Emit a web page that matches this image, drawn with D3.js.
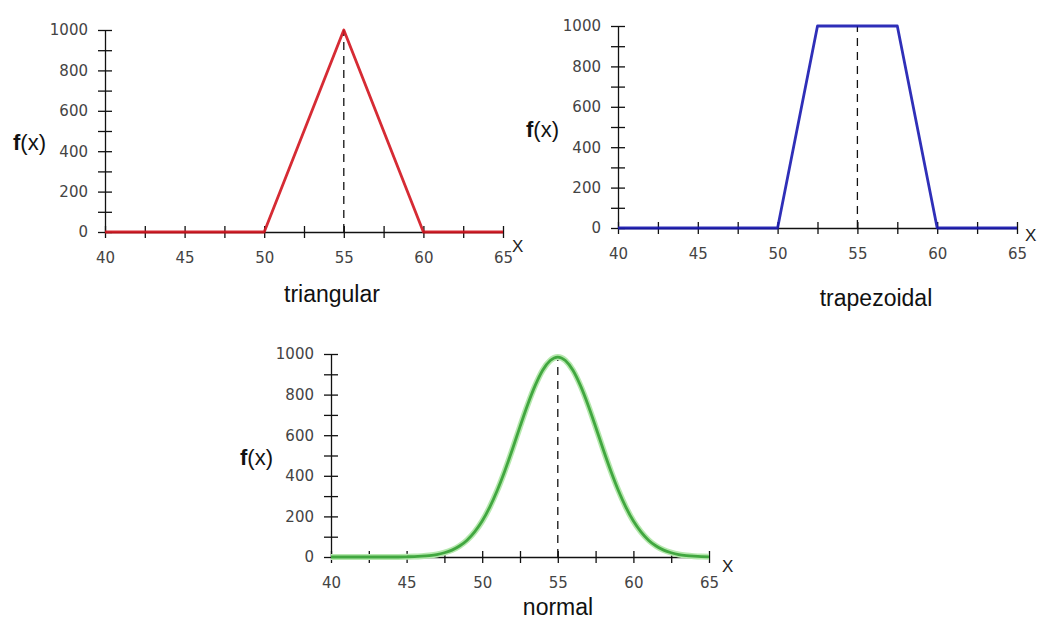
<!DOCTYPE html>
<html>
<head>
<meta charset="utf-8">
<script src="https://cdn.jsdelivr.net/npm/d3@7"></script>
<style>
	body { margin: 0; background: #fff; }
	svg { display: block; }
</style>
</head>
<body>
<svg width="1042" height="622"></svg>
<script>
// tick values shared by all three panels
var xTicks = [40, 42.5, 45, 47.5, 50, 52.5, 55, 57.5, 60, 62.5, 65];
var yTicks = [0, 100, 200, 300, 400, 500, 600, 700, 800, 900, 1000];

// triangular membership
var triX = [40, 50, 55, 60, 65];
var triY = [0, 0, 1000, 0, 0];

// trapezoidal membership
var trapX = [40, 50, 52.5, 57.5, 60, 65];
var trapY = [0, 0, 1000, 1000, 0, 0];

// normal curve
var normX = [40, 44, 45, 45.5, 46, 46.5, 47, 47.5, 48, 48.5, 49, 49.5, 50, 50.5, 51, 51.5, 52, 52.5, 53, 53.5, 54, 54.5,
	55, 55.5, 56, 56.5, 57, 57.5, 58, 58.5, 59, 59.5, 60, 60.5, 61, 61.5, 62, 62.5, 63, 63.5, 64, 64.5, 65];
var normY = [0, 0, 1, 2, 4, 7, 12, 21, 34, 54, 83, 124, 177, 246, 329, 425, 531, 642, 749, 844, 920, 968,
	985, 968, 920, 844, 749, 642, 531, 425, 329, 246, 177, 124, 83, 54, 34, 21, 12, 7, 4, 2, 1];

var panels = [
	{ name: "triangular", xs: triX, ys: triY, peak: 1000, color: "#d2141e", halo: null,
	  left: 105, right: 503, top: 30, bottom: 232,
	  fx: [13, 150], title: [332, 302], xl: [512, 252], curve: d3.curveLinear },
	{ name: "trapezoidal", xs: trapX, ys: trapY, peak: 1000, color: "#1818b0", halo: null,
	  left: 618, right: 1017, top: 26, bottom: 228,
	  fx: [526, 137], title: [876, 306], xl: [1025, 241], curve: d3.curveLinear },
	{ name: "normal", xs: normX, ys: normY, peak: 985, color: "#34a034", halo: "#b6e8ae",
	  left: 331, right: 709, top: 354, bottom: 557,
	  fx: [240, 465], title: [558, 615], xl: [722, 572], curve: d3.curveMonotoneX }
];

var svg = d3.select("svg");
svg.append("rect").attr("width", 1042).attr("height", 622).attr("fill", "#fff");

panels.forEach(drawPanel);

function drawPanel(p) {
	var x = d3.scaleLinear().domain([40, 65]).range([p.left, p.right]);
	var y = d3.scaleLinear().domain([0, 1000]).range([p.bottom, p.top]);
	var g = svg.append("g");

	var yAxis = d3.axisLeft(y)
		.tickValues(yTicks)
		.tickSizeInner(7)
		.tickSizeOuter(0)
		.tickPadding(10)
		.tickFormat(function(d){ return d % 200 === 0 ? d : ""; });
	var gy = g.append("g").attr("transform", "translate(" + p.left + ",0)").call(yAxis);

	var xAxis = d3.axisBottom(x)
		.tickValues(xTicks)
		.tickSizeInner(6)
		.tickSizeOuter(0)
		.tickPadding(14)
		.tickFormat(function(d){ return d % 5 === 0 ? d : ""; });
	var gx = g.append("g").attr("transform", "translate(0," + p.bottom + ")").call(xAxis);

	// ticks cross the axis line
	gy.selectAll(".tick line").attr("x1", 7);
	gx.selectAll(".tick line").attr("y1", -6);
	[gx, gy].forEach(function(a){
		a.selectAll("path, line").attr("stroke", "#111").attr("stroke-width", 1.3);
		a.selectAll("text").attr("fill", "#444").style("font", "15px 'DejaVu Sans'");
	});

	// dashed line at the centre
	g.append("line")
		.attr("x1", x(55)).attr("x2", x(55))
		.attr("y1", y(0)).attr("y2", y(p.peak))
		.attr("stroke", "#111").attr("stroke-width", 1.3)
		.attr("stroke-dasharray", "8,6");

	var line = d3.line()
		.x(function(d, i){ return x(p.xs[i]); })
		.y(function(d){ return y(d); })
		.curve(p.curve);

	if (p.halo) {
		g.append("path").datum(p.ys).attr("d", line)
			.attr("fill", "none").attr("stroke", p.halo).attr("stroke-width", 6)
			.attr("stroke-linejoin", "round");
	}
	g.append("path").datum(p.ys).attr("d", line)
		.attr("fill", "none").attr("stroke", p.color).attr("stroke-width", 2.8)
		.attr("stroke-opacity", 0.9)
		.attr("stroke-linejoin", "round");

	var f = g.append("text")
		.attr("x", p.fx[0]).attr("y", p.fx[1])
		.attr("fill", "#111")
		.style("font", "22px 'Liberation Sans'");
	f.append("tspan").attr("font-weight", "bold").text("f");
	f.append("tspan").text("(x)");

	g.append("text")
		.attr("x", p.xl[0]).attr("y", p.xl[1])
		.attr("fill", "#222")
		.style("font", "17px 'Liberation Sans'")
		.text("X");

	g.append("text")
		.attr("x", p.title[0]).attr("y", p.title[1])
		.attr("text-anchor", "middle")
		.attr("fill", "#111")
		.style("font", "23px 'Liberation Sans'")
		.text(p.name);
}
</script>
</body>
</html>
